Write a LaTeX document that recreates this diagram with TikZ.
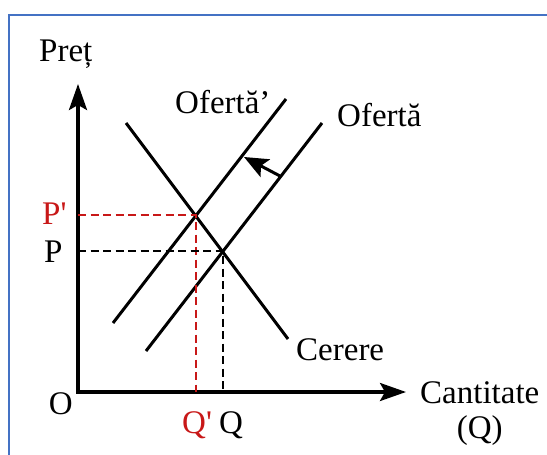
\documentclass[tikz,border=0pt]{standalone}
\usepackage{fontspec}
\setmainfont{Liberation Serif}
\newfontfamily\plainserif{Liberation Serif}[Ligatures=TeXOff]
\usetikzlibrary{arrows.meta}
\definecolor{frameblue}{RGB}{68,114,196}
\definecolor{shiftred}{RGB}{200,24,24}
\begin{document}
\begin{tikzpicture}[x=1pt,y=-1pt,
  axis/.style={line width=3.2pt, line join=miter,
    {Stealth[length=26pt,width=18pt,inset=5pt]}-{Stealth[length=26pt,width=18pt,inset=5pt]}},
  curve/.style={line width=3pt},
  shiftarrow/.style={line width=3pt, -{Stealth[length=24pt,width=20pt,inset=5pt]}},
  guide/.style={line width=2.7pt, dash pattern=on 8pt off 4.5pt},
  lbl/.style={font=\fontsize{33}{38}\selectfont, inner sep=0pt},
  frame/.style={frameblue, line width=2pt}]
\useasboundingbox (0,0) rectangle (547,455);
% frame (top and left edges only)
\coordinate (f1) at (9,455);
\coordinate (f2) at (9,15);
\coordinate (f3) at (547,15);
\draw[frame] (f1) -- (f2) -- (f3);
% axes
\coordinate (O) at (78,392);
\coordinate (ytip) at (78,84);
\coordinate (xtip) at (406,392);
\draw[axis] (ytip) -- (O) -- (xtip);
% curves
\coordinate (D1) at (126,123);
\coordinate (D2) at (288,339);
\coordinate (S1a) at (113,323);
\coordinate (S1b) at (286,99);
\coordinate (S0a) at (146,351);
\coordinate (S0b) at (322,123);
\draw[curve] (D1) -- (D2);
\draw[curve] (S1a) -- (S1b);
\draw[curve] (S0a) -- (S0b);
% equilibria
\coordinate (Ep) at (196,215);
\coordinate (E) at (223,251);
\draw[guide, shiftred] (O |- Ep) -- (Ep) -- (Ep |- O);
\draw[guide] (O |- E) -- (E) -- (E |- O);
% shift arrow
\coordinate (A0) at (280,176);
\coordinate (A1) at (244,157);
\draw[shiftarrow] (A0) -- (A1);
% labels
\node[lbl, anchor=base west] (pret) at (39,61) {Preț};
\node[lbl, anchor=base west] (ofp) at (175,113) {Ofertă’};
\node[lbl, anchor=base west] (of) at (337,126) {Ofertă};
\node[lbl, anchor=base west] (cer) at (296,360) {Cerere};
\node[lbl, anchor=base west] (cant) at (420,403) {Cantitate};
\node[lbl, anchor=base] (qq) at (cant.center |- 0,438) {(Q)};
\node[lbl, anchor=base east] (o) at (73,414) {O};
\node[lbl, anchor=base west, text=shiftred] (qp) at (182,433) {\plainserif Q'};
\node[lbl, anchor=base west] (q) at (219,433) {Q};
\node[lbl, anchor=base west, text=shiftred] (pp) at (42,224) {\plainserif P'};
\node[lbl, anchor=base west] (p) at (44,262) {P};
\end{tikzpicture}
\end{document}
